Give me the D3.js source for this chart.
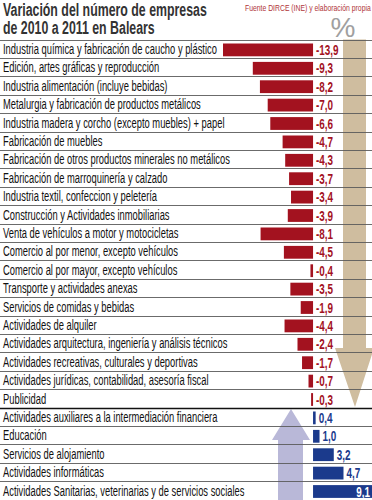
<!DOCTYPE html>
<html>
<head>
<meta charset="utf-8">
<script src="https://cdn.jsdelivr.net/npm/d3@7"></script>
<style>
  body { margin: 0; background: #fff; }
  svg { display: block; }
</style>
</head>
<body>
<script>
// sectores y variacion (%) 2010-2011
var sectores = [
  'Industria química y fabricación de caucho y plástico',
  'Edición, artes gráficas y reproducción',
  'Industria alimentación (incluye bebidas)',
  'Metalurgia y fabricación de productos metálicos',
  'Industria madera y corcho (excepto muebles) + papel',
  'Fabricación de muebles',
  'Fabricación de otros productos minerales no metálicos',
  'Fabricación de marroquinería y calzado',
  'Industria textil, confeccion y peletería',
  'Construcción y Actividades inmobiliarias',
  'Venta de vehículos a motor y motocicletas',
  'Comercio al por menor, excepto vehículos',
  'Comercio al por mayor, excepto vehículos',
  'Transporte y actividades anexas',
  'Servicios de comidas y bebidas',
  'Actividades de alquiler',
  'Actividades arquitectura, ingeniería y análisis técnicos',
  'Actividades recreativas, culturales y deportivas',
  'Actividades jurídicas, contabilidad, asesoría fiscal',
  'Publicidad',
  'Actividades auxiliares a la intermediación financiera',
  'Educación',
  'Servicios de alojamiento',
  'Actividades informáticas',
  'Actividades Sanitarias, veterinarias y de servicios sociales'
];
var variacion = [-13.9, -9.3, -8.2, -7.0, -6.6, -4.7, -4.3, -3.7, -3.4, -3.9,
  -8.1, -4.5, -0.4, -3.5, -1.9, -4.4, -2.4, -1.7, -0.7, -0.3,
  0.4, 1.0, 3.2, 4.7, 9.1];
var titulo = ['Variación del número de empresas', 'de 2010 a 2011 en Balears'];
var fuente = 'Fuente DIRCE (INE) y elaboración propia';

var data = sectores.map(function(s, i) { return {sector: s, valor: variacion[i]}; });

var W = 372, H = 500;
var font = "'Liberation Sans', Arial, sans-serif";
var rojo = '#a3121f', azul = '#1b3a8c';

var svg = d3.select('body').append('svg')
  .attr('width', W)
  .attr('height', H);

var x = d3.scaleLinear()
  .domain(d3.extent(variacion))
  .range([223, 372]);

var y = d3.scaleBand()
  .domain(sectores)
  .range([39.5, 39.5 + 25 * 18.4]);

var fmt = function(v) { return d3.format('.1f')(v).replace('.', ',').replace('−', '-'); };

// estrecha un texto en horizontal respecto a su x
function estrechar(sel, k) {
  sel.each(function() {
    var t = d3.select(this);
    var tx = +t.attr('x'), ty = +t.attr('y');
    t.attr('transform', 'translate(' + tx + ',' + ty + ') scale(' + k + ',1) translate(' + (-tx) + ',' + (-ty) + ')');
  });
}

// flecha bajada
svg.append('polygon')
  .attr('fill', '#cfbd9f')
  .attr('points', [[343, 39.5], [366, 39.5], [366, 348], [374, 348], [355, 407], [335, 348], [343, 348]].join(' '));

// flecha subida
svg.append('polygon')
  .attr('fill', '#b9b8d8')
  .attr('points', [[278, 500], [303, 500], [303, 440], [310, 440], [291, 409], [272, 440], [278, 440]].join(' '));

// lineas de fila
svg.append('g').selectAll('line')
  .data(sectores)
  .join('line')
  .attr('x1', 0).attr('x2', W)
  .attr('y1', function(d) { return Math.round(y(d)) + 0.5; })
  .attr('y2', function(d) { return Math.round(y(d)) + 0.5; })
  .attr('stroke', function(d, i) { return i == 20 ? '#111' : '#5a5a5a'; })
  .attr('stroke-width', function(d, i) { return i == 20 ? 1.6 : 0.9; });

// barras
svg.append('g').selectAll('rect')
  .data(data)
  .join('rect')
  .attr('x', function(d) { return x(Math.min(0, d.valor)); })
  .attr('y', function(d) { return y(d.sector) + 4; })
  .attr('width', function(d) { return Math.abs(x(d.valor) - x(0)); })
  .attr('height', 12.8)
  .attr('fill', function(d) { return d.valor < 0 ? rojo : azul; });

// valores
svg.append('g').selectAll('text')
  .data(data)
  .join('text')
  .attr('x', function(d) {
    if (d.valor < 0) return x(0) + 3;
    if (d.valor > 8) return x(d.valor) - 2;
    return x(d.valor) + 3;
  })
  .attr('y', function(d) { return y(d.sector) + 15.5; })
  .attr('text-anchor', function(d) { return d.valor > 8 ? 'end' : 'start'; })
  .attr('font-family', font)
  .attr('font-weight', 'bold')
  .attr('font-size', 15)
  .attr('fill', function(d) {
    if (d.valor > 8) return '#fff';
    return d.valor < 0 ? rojo : azul;
  })
  .text(function(d) { return fmt(d.valor); })
  .call(estrechar, 0.66);

// etiquetas
var etiq = svg.append('g').selectAll('text')
  .data(sectores)
  .join('text')
  .attr('x', 3)
  .attr('y', function(d) { return y(d) + 14.5; })
  .attr('font-family', font)
  .attr('font-size', 15)
  .attr('fill', '#111')
  .text(function(d) { return d; });
etiq.call(estrechar, 214 / etiq.node().getComputedTextLength());

// titulo
var tit = svg.append('g').selectAll('text')
  .data(titulo)
  .join('text')
  .attr('x', 3)
  .attr('y', function(d, i) { return 16 + i * 18; })
  .attr('font-family', font)
  .attr('font-weight', 'bold')
  .attr('font-size', 18.5)
  .attr('fill', '#333')
  .text(function(d) { return d; });
tit.call(estrechar, 204 / tit.node().getComputedTextLength());

var src = svg.append('text')
  .attr('x', 245)
  .attr('y', 11)
  .attr('font-family', font)
  .attr('font-size', 9.5)
  .attr('fill', '#b0353a')
  .text(fuente);
src.call(estrechar, 126 / src.node().getComputedTextLength());

svg.append('text')
  .attr('x', 343)
  .attr('y', 37)
  .attr('text-anchor', 'middle')
  .attr('font-family', font)
  .attr('font-size', 28)
  .attr('fill', '#a0a0a0')
  .text('%');
</script>
</body>
</html>
